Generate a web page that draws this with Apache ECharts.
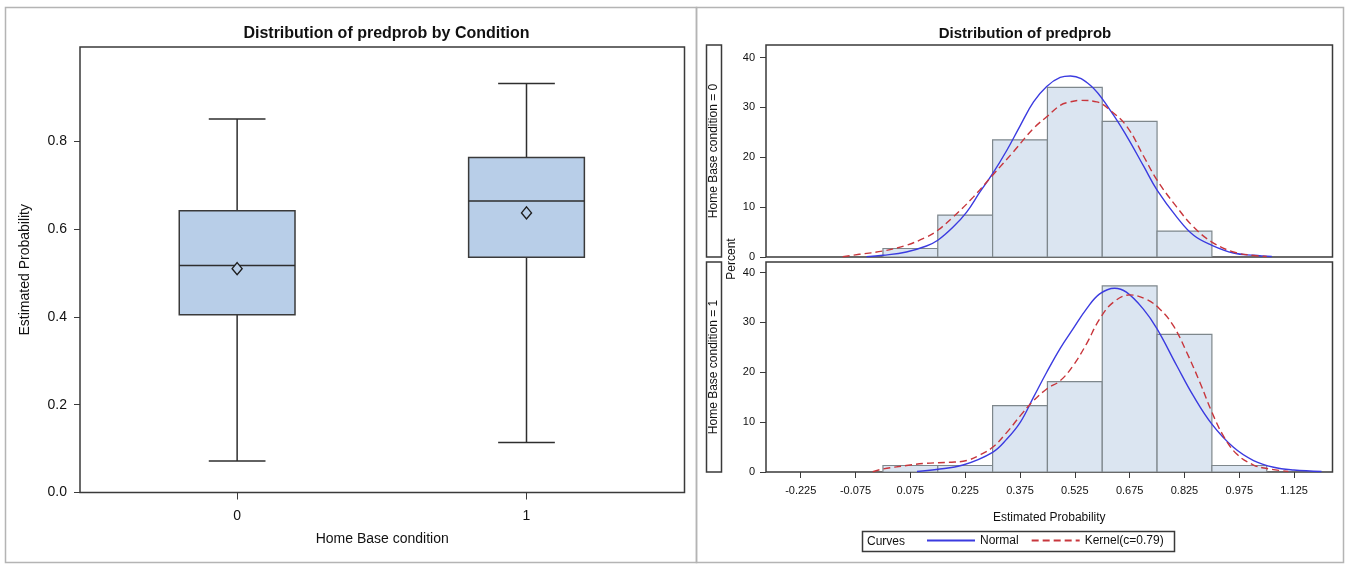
<!DOCTYPE html>
<html>
<head>
<meta charset="utf-8">
<script src="https://cdn.jsdelivr.net/npm/echarts@6/dist/echarts.min.js"></script>
<style>
html,body{margin:0;padding:0;background:#fff;}
#chart{width:1347px;height:564px;}
</style>
</head>
<body>
<div id="chart"></div>
<script>
// ---------- Data ----------
const boxCategories = [0, 1];
const boxMin    = [0.072, 0.114];
const boxQ1     = [0.405, 0.536];
const boxMedian = [0.517, 0.664];
const boxQ3     = [0.642, 0.763];
const boxMax    = [0.851, 0.932];
const boxMean   = [0.510, 0.637];
const boxYTicks = [0, 0.2, 0.4, 0.6, 0.8];

const binEdges = [0, 0.15, 0.30, 0.45, 0.60, 0.75, 0.90, 1.05];
const pctCond0 = [1.7, 8.4, 23.5, 34.0, 27.2, 5.2, 0];
const pctCond1 = [1.3, 1.3, 13.3, 18.1, 37.3, 27.6, 1.3];
const histXTicks = [-0.225, -0.075, 0.075, 0.225, 0.375, 0.525, 0.675, 0.825, 0.975, 1.125];
const histYTicks = [0, 10, 20, 30, 40];

const normal0X = [-0.045, 0, 0.064, 0.119, 0.15, 0.192, 0.229, 0.265, 0.3, 0.339, 0.376, 0.412, 0.448, 0.485, 0.513, 0.568, 0.622, 0.668, 0.714, 0.75, 0.804, 0.85, 0.9, 0.959, 1.014, 1.064];
const normal0Y = [0.05, 0.34, 1.0, 2.2, 3.35, 6.0, 9.0, 13.0, 16.7, 21.4, 26.4, 31.1, 34.2, 36.0, 36.3, 34.4, 29.4, 24.1, 18.1, 13.4, 8.0, 4.35, 2.35, 0.8, 0.34, 0.1];
const kernel0X = [-0.11, -0.065, 0, 0.064, 0.119, 0.15, 0.192, 0.247, 0.3, 0.357, 0.412, 0.448, 0.485, 0.513, 0.54, 0.585, 0.622, 0.668, 0.714, 0.75, 0.804, 0.85, 0.9, 0.959, 1.014, 1.05];
const kernel0Y = [0.05, 0.54, 1.2, 2.35, 4.0, 5.35, 8.0, 12.0, 16.4, 21.1, 25.8, 28.1, 30.4, 31.1, 31.4, 31.1, 29.4, 26.1, 20.1, 15.4, 10.0, 6.0, 3.0, 1.0, 0.3, 0.1];
const normal1X = [0.093, 0.146, 0.219, 0.3, 0.339, 0.376, 0.412, 0.448, 0.485, 0.52, 0.557, 0.593, 0.634, 0.666, 0.712, 0.75, 0.804, 0.849, 0.9, 0.959, 1.014, 1.069, 1.124, 1.2];
const normal1Y = [0.1, 0.5, 1.4, 3.95, 6.6, 10.0, 15.0, 20.0, 24.8, 28.7, 32.7, 35.7, 36.85, 36.05, 32.7, 28.7, 21.3, 15.3, 9.6, 4.95, 2.3, 0.95, 0.4, 0.1];
const kernel1X = [-0.028, 0, 0.064, 0.119, 0.183, 0.229, 0.265, 0.3, 0.339, 0.376, 0.412, 0.448, 0.485, 0.52, 0.557, 0.593, 0.63, 0.676, 0.721, 0.757, 0.794, 0.831, 0.867, 0.9, 0.931, 0.968, 1.014, 1.05, 1.109];
const kernel1Y = [0.05, 0.6, 1.3, 1.75, 1.95, 2.3, 3.4, 4.95, 7.95, 11.3, 14.3, 16.65, 18.3, 21.3, 25.7, 30.7, 34.0, 35.5, 34.6, 32.7, 29.4, 24.0, 18.0, 12.0, 7.3, 3.6, 1.4, 0.7, 0.1];

// ---------- Build ----------
const FONT = "'Liberation Sans', Arial, Helvetica, sans-serif";
const FRAME = '#3a3a3a';
const BOX_FILL = '#b8cee8';
const HIST_FILL = '#dbe5f1';
const HIST_EDGE = '#7e878c';
const BLUE = '#3b3be0';
const RED = '#c8363c';

const zip = (a, b) => a.map((v, i) => [v, b[i]]);
const boxData = boxCategories.map((c, i) => [c, boxMin[i], boxQ1[i], boxMedian[i], boxQ3[i], boxMax[i], boxMean[i]]);
const hist0 = pctCond0.map((p, i) => [binEdges[i], binEdges[i + 1], p]).filter(d => d[2] > 0);
const hist1 = pctCond1.map((p, i) => [binEdges[i], binEdges[i + 1], p]).filter(d => d[2] > 0);

function renderBox(params, api) {
  const x = api.value(0);
  const halfBox = api.size([0.2, 0])[0];
  const halfCap = api.size([0.098, 0])[0];
  const pMin = api.coord([x, api.value(1)]);
  const pQ1 = api.coord([x, api.value(2)]);
  const pMed = api.coord([x, api.value(3)]);
  const pQ3 = api.coord([x, api.value(4)]);
  const pMax = api.coord([x, api.value(5)]);
  const pMean = api.coord([x, api.value(6)]);
  const cx = pMin[0];
  const ls = { stroke: '#2e2e2e', lineWidth: 1.5 };
  return {
    type: 'group',
    children: [
      { type: 'line', shape: { x1: cx, y1: pMin[1], x2: cx, y2: pQ1[1] }, style: ls },
      { type: 'line', shape: { x1: cx, y1: pQ3[1], x2: cx, y2: pMax[1] }, style: ls },
      { type: 'line', shape: { x1: cx - halfCap, y1: pMin[1], x2: cx + halfCap, y2: pMin[1] }, style: ls },
      { type: 'line', shape: { x1: cx - halfCap, y1: pMax[1], x2: cx + halfCap, y2: pMax[1] }, style: ls },
      { type: 'rect', shape: { x: cx - halfBox, y: pQ3[1], width: 2 * halfBox, height: pQ1[1] - pQ3[1] },
        style: { fill: BOX_FILL, stroke: '#3a3a3a', lineWidth: 1.5 } },
      { type: 'line', shape: { x1: cx - halfBox, y1: pMed[1], x2: cx + halfBox, y2: pMed[1] }, style: ls },
      { type: 'polygon', shape: { points: [[cx, pMean[1] - 6], [cx + 5, pMean[1]], [cx, pMean[1] + 6], [cx - 5, pMean[1]]] },
        style: { fill: BOX_FILL, stroke: '#1e1e1e', lineWidth: 1.4 } }
    ]
  };
}

function renderHist(params, api) {
  const p0 = api.coord([api.value(0), api.value(2)]);
  const p1 = api.coord([api.value(1), 0]);
  return {
    type: 'rect',
    shape: { x: p0[0], y: p0[1], width: p1[0] - p0[0], height: p1[1] - p0[1] },
    style: { fill: HIST_FILL, stroke: HIST_EDGE, lineWidth: 1.2 }
  };
}

const txt = (size, extra) => Object.assign({ fontFamily: FONT, fontSize: size, color: '#111' }, extra || {});

const histX = (idx, showLabels) => ({
  type: 'value', gridIndex: idx, min: -0.32, max: 1.23,
  axisLine: { show: false, onZero: false },
  splitLine: { show: false },
  axisTick: { show: showLabels, length: 6, customValues: histXTicks, lineStyle: { color: FRAME } },
  axisLabel: { show: showLabels, customValues: histXTicks, margin: 13, formatter: v => String(v), ...txt(11) },
  name: showLabels ? 'Estimated Probability' : '', nameLocation: 'middle', nameGap: 40,
  nameTextStyle: txt(12)
});
const histY = (idx, max) => ({
  type: 'value', gridIndex: idx, min: 0, max: max,
  axisLine: { show: false, onZero: false },
  splitLine: { show: false },
  axisTick: { show: true, length: 6, customValues: histYTicks, lineStyle: { color: FRAME } },
  axisLabel: { customValues: histYTicks, margin: 11, ...txt(11) }
});

const lineSeries = (name, xs, ys, idx, color, dashed) => ({
  type: 'line', name: name, xAxisIndex: idx, yAxisIndex: idx,
  data: zip(xs, ys), smooth: 0.4, symbol: 'none', clip: true,
  lineStyle: { color: color, width: 1.4, type: dashed ? [7, 4] : 'solid' },
  itemStyle: { color: color },
  z: 5
});

const option = {
  backgroundColor: '#fff',
  animation: false,
  title: [
    { text: 'Distribution of predprob by Condition', left: 381.5, top: 21, textAlign: 'center',
      textStyle: { fontFamily: FONT, fontSize: 16, fontWeight: 'bold', color: '#111' } },
    { text: 'Distribution of predprob', left: 1020, top: 21, textAlign: 'center',
      textStyle: { fontFamily: FONT, fontSize: 15, fontWeight: 'bold', color: '#111' } }
  ],
  grid: [
    { left: 80, top: 47, width: 604.5, height: 445.5, show: true, borderColor: FRAME, borderWidth: 1.5, backgroundColor: 'transparent' },
    { left: 766, top: 45, width: 566.5, height: 212, show: true, borderColor: FRAME, borderWidth: 1.5, backgroundColor: 'transparent' },
    { left: 766, top: 262, width: 566.5, height: 210, show: true, borderColor: FRAME, borderWidth: 1.5, backgroundColor: 'transparent' }
  ],
  xAxis: [
    { type: 'value', gridIndex: 0, min: -0.543, max: 1.546,
      axisLine: { show: false, onZero: false }, splitLine: { show: false },
      axisTick: { show: true, length: 7, customValues: boxCategories, lineStyle: { color: FRAME } },
      axisLabel: { customValues: boxCategories, margin: 17, ...txt(14) },
      name: 'Home Base condition', nameLocation: 'middle', nameGap: 40, nameTextStyle: txt(14) },
    histX(1, false),
    histX(2, true)
  ],
  yAxis: [
    { type: 'value', gridIndex: 0, min: 0, max: 1.015,
      axisLine: { show: false, onZero: false }, splitLine: { show: false },
      axisTick: { show: true, length: 6, customValues: boxYTicks, lineStyle: { color: FRAME } },
      axisLabel: { customValues: boxYTicks, margin: 13, formatter: v => v.toFixed(1), ...txt(14) },
      name: 'Estimated Probability', nameLocation: 'middle', nameGap: 48, nameTextStyle: txt(14) },
    histY(1, 42.5),
    histY(2, 42.1)
  ],
  legend: {
    left: 926, top: 534.5, padding: 0, itemWidth: 48, itemHeight: 14, itemGap: 12,
    data: ['Normal', 'Kernel(c=0.79)'],
    textStyle: txt(12),
    itemStyle: { color: 'rgba(0,0,0,0)', borderWidth: 0, opacity: 0 }
  },
  graphic: [
    { type: 'rect', shape: { x: 5.5, y: 7.5, width: 691, height: 555 }, style: { fill: 'none', stroke: '#b4b4b4', lineWidth: 1.5 }, silent: true },
    { type: 'rect', shape: { x: 696.5, y: 7.5, width: 647, height: 555 }, style: { fill: 'none', stroke: '#b4b4b4', lineWidth: 1.5 }, silent: true },
    { type: 'rect', shape: { x: 706.5, y: 45, width: 15, height: 212 }, style: { fill: '#fff', stroke: FRAME, lineWidth: 1.5 }, silent: true },
    { type: 'rect', shape: { x: 706.5, y: 262, width: 15, height: 210 }, style: { fill: '#fff', stroke: FRAME, lineWidth: 1.5 }, silent: true },
    { type: 'text', x: 714, y: 151, rotation: Math.PI / 2, silent: true,
      style: { text: 'Home Base condition = 0', font: '12px ' + FONT, fill: '#111', align: 'center', verticalAlign: 'middle' } },
    { type: 'text', x: 714, y: 367, rotation: Math.PI / 2, silent: true,
      style: { text: 'Home Base condition = 1', font: '12px ' + FONT, fill: '#111', align: 'center', verticalAlign: 'middle' } },
    { type: 'text', x: 731.5, y: 259, rotation: Math.PI / 2, silent: true,
      style: { text: 'Percent', font: '12px ' + FONT, fill: '#111', align: 'center', verticalAlign: 'middle' } },
    { type: 'rect', shape: { x: 862.5, y: 531.5, width: 312, height: 20 }, style: { fill: 'none', stroke: FRAME, lineWidth: 1.5 }, silent: true },
    { type: 'text', x: 867, y: 541.5, silent: true,
      style: { text: 'Curves', font: '12px ' + FONT, fill: '#111', align: 'left', verticalAlign: 'middle' } }
  ],
  series: [
    { type: 'custom', name: 'box', xAxisIndex: 0, yAxisIndex: 0, data: boxData, renderItem: renderBox, clip: true, z: 3 },
    { type: 'custom', name: 'hist0', xAxisIndex: 1, yAxisIndex: 1, data: hist0, renderItem: renderHist, clip: true, z: 2 },
    { type: 'custom', name: 'hist1', xAxisIndex: 2, yAxisIndex: 2, data: hist1, renderItem: renderHist, clip: true, z: 2 },
    lineSeries('Normal', normal0X, normal0Y, 1, BLUE, false),
    lineSeries('Kernel(c=0.79)', kernel0X, kernel0Y, 1, RED, true),
    lineSeries('Normal', normal1X, normal1Y, 2, BLUE, false),
    lineSeries('Kernel(c=0.79)', kernel1X, kernel1Y, 2, RED, true)
  ]
};

const chart = echarts.init(document.getElementById('chart'), null, { renderer: 'canvas' });
chart.setOption(option);
</script>
</body>
</html>
